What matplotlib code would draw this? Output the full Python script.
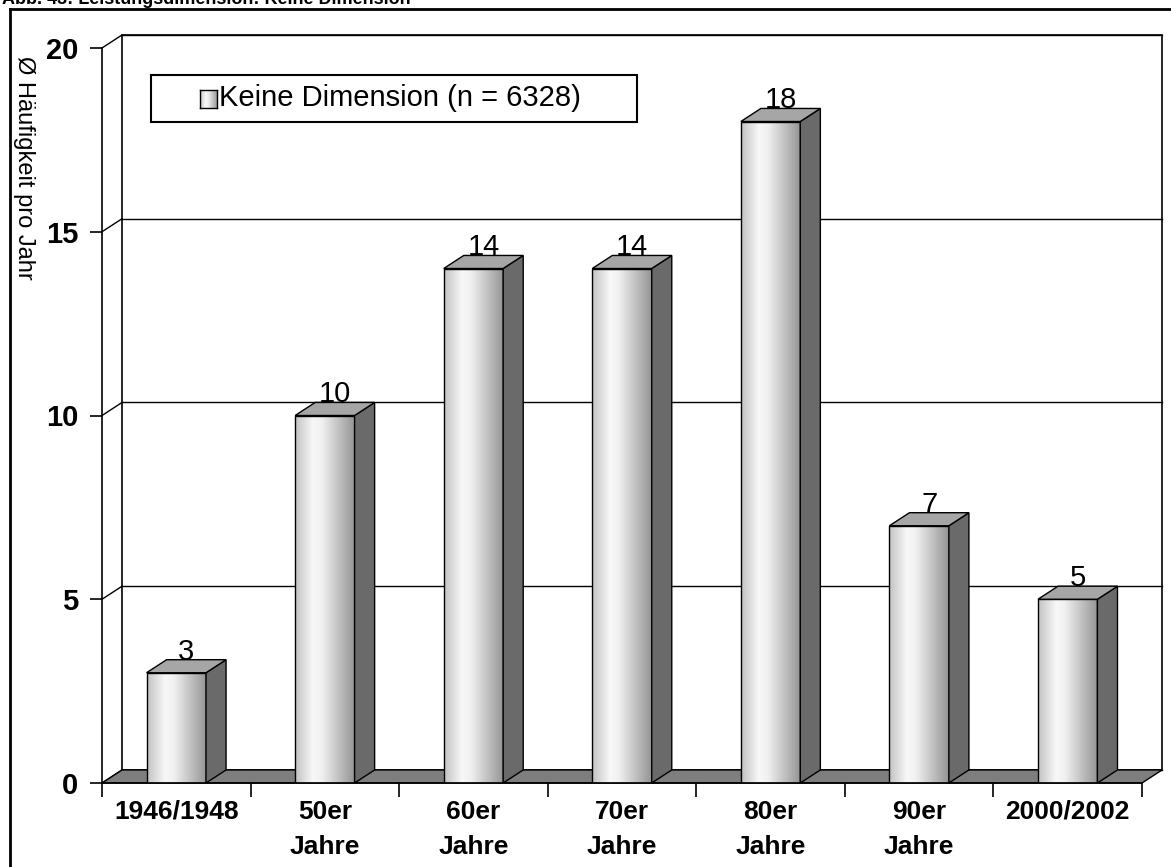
import numpy as np
import matplotlib.pyplot as plt
from matplotlib.patches import Polygon, Rectangle
from matplotlib.lines import Line2D

plt.rcParams['font.family'] = ['Liberation Sans', 'DejaVu Sans']

kategorien = ['1946/1948', '50er\nJahre', '60er\nJahre', '70er\nJahre',
              '80er\nJahre', '90er\nJahre', '2000/2002']
haeufigkeit = [3, 10, 14, 14, 18, 7, 5]
y_ticks = [0, 5, 10, 15, 20]
legende = 'Keine Dimension (n = 6328)'
titel = 'Abb. 43: Leistungsdimension: Keine Dimension'
y_titel = 'Ø Häufigkeit pro Jahr'

W, H = 1171, 867
fig = plt.figure(figsize=(W / 100, H / 100), dpi=100)


def fx(px):
    return px / W


def fy(py):
    return 1 - py / H


# Rahmen und abgeschnittene Überschrift
fig.add_artist(Line2D([fx(10), 1], [fy(9), fy(9)], color='black', lw=2))
fig.add_artist(Line2D([fx(10), fx(10)], [0, fy(9)], color='black', lw=2))
fig.text(fx(2), fy(4), titel, fontsize=13, fontweight='bold', va='baseline')

ax = fig.add_axes([fx(102), fy(783), fx(1142) - fx(102), fy(48) - fy(783)])
n = len(kategorien)
x0, x1 = -0.5, n - 0.5
ymax = y_ticks[-1]

# Tiefenversatz der 3D-Optik in Dateneinheiten
dx = 0.135
dy = 0.355
bw = 0.4

# Rückwand mit Gitternetz
ax.add_patch(Polygon([(x0 + dx, dy), (x1 + dx, dy), (x1 + dx, ymax + dy), (x0 + dx, ymax + dy)],
                     closed=True, facecolor='white', edgecolor='black', lw=1.2,
                     clip_on=False, zorder=0))
for t in y_ticks:
    ax.plot([x0 + dx, x1 + dx], [t + dy, t + dy], color='black', lw=1, clip_on=False, zorder=1)
    ax.plot([x0, x0 + dx], [t, t + dy], color='black', lw=1, clip_on=False, zorder=1)

# Boden
ax.add_patch(Polygon([(x0, 0), (x1, 0), (x1 + dx, dy), (x0 + dx, dy)], closed=True,
                     facecolor='#7e7e7e', edgecolor='black', lw=1, clip_on=False, zorder=2))

# Farbverlauf der Säulenfront
pos = np.linspace(0, 1, 200)
verlauf = np.interp(pos, [0, 0.3, 0.45, 1.0], [0.76, 0.97, 0.94, 0.58])
verlauf = np.tile(verlauf, (2, 1))

for i, v in enumerate(haeufigkeit):
    l, r = i - bw / 2, i + bw / 2
    ax.imshow(verlauf, cmap='gray', vmin=0, vmax=1, extent=(l, r, 0, v),
              aspect='auto', interpolation='bilinear', zorder=3)
    ax.add_patch(Rectangle((l, 0), bw, v, facecolor='none', edgecolor='black', lw=1, zorder=4))
    ax.add_patch(Polygon([(r, 0), (r + dx, dy), (r + dx, v + dy), (r, v)], closed=True,
                         facecolor='#6a6a6a', edgecolor='black', lw=1, zorder=4))
    ax.add_patch(Polygon([(l, v), (r, v), (r + dx, v + dy), (l + dx, v + dy)], closed=True,
                         facecolor='#a6a6a6', edgecolor='black', lw=1, zorder=4, clip_on=False))
    ax.text(i + dx / 2, v + dy, str(v), ha='center', va='baseline', fontsize=21, zorder=5)

ax.set_xlim(x0, x1)
ax.set_ylim(0, ymax)
ax.set_facecolor('none')
for s in ['top', 'right']:
    ax.spines[s].set_visible(False)
for s in ['left', 'bottom']:
    ax.spines[s].set_linewidth(1.2)
    ax.spines[s].set_zorder(6)

ax.set_xticks(np.arange(n + 1) - 0.5)
ax.set_xticklabels([])
ax.set_xticks(np.arange(n), minor=True)
ax.set_xticklabels(kategorien, minor=True, fontsize=19, fontweight='bold', linespacing=1.6)
ax.tick_params(axis='x', which='major', length=10, width=1.2, direction='out')
ax.tick_params(axis='x', which='minor', length=0, pad=12)

ax.set_yticks(y_ticks)
ax.set_yticklabels([str(t) for t in y_ticks], fontsize=21, fontweight='bold')
ax.tick_params(axis='y', length=9, width=1.2, direction='out', pad=8)

fig.text(fx(24), fy(168), y_titel, rotation=270, fontsize=17, ha='center', va='center')

# Legende
fig.add_artist(Rectangle((fx(151), fy(122)), fx(637) - fx(151), fy(75) - fy(122),
                         transform=fig.transFigure, facecolor='white', edgecolor='black', lw=1.5))
lax = fig.add_axes([fx(200), fy(108), fx(17), fy(90) - fy(108)])
lax.set_zorder(5)
lax.imshow(verlauf, cmap='gray', vmin=0, vmax=1, aspect='auto', interpolation='bilinear')
lax.set_xticks([])
lax.set_yticks([])
for s in lax.spines.values():
    s.set_linewidth(1)
fig.text(fx(219), fy(98), legende, fontsize=21, va='center', ha='left')

fig.savefig('out.png', dpi=100)
